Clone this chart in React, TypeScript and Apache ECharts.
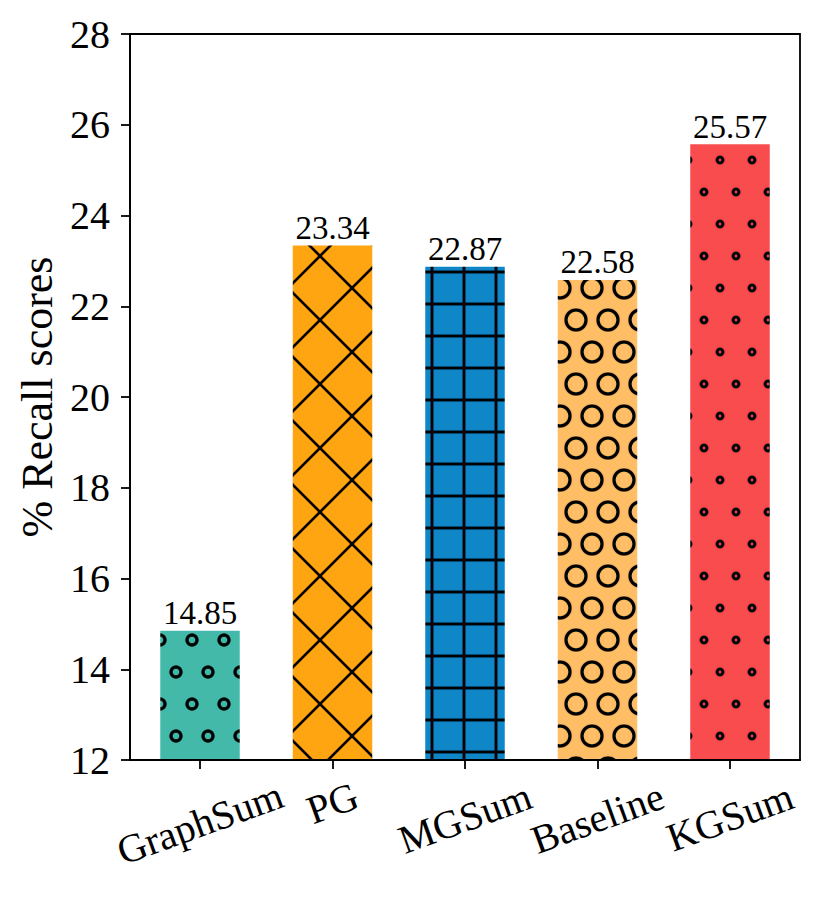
import React, { useEffect, useRef } from "react";
import * as echarts from "echarts";

const categories = ["GraphSum", "PG", "MGSum", "Baseline", "KGSum"];
const recallScores = [14.85, 23.34, 22.87, 22.58, 25.57];
const yTickMin = 12;
const yTickMax = 28;
const yTickStep = 2;
const barColors = ["#43b9aa", "#ffa511", "#0f86c8", "#ffbd66", "#f84c4e"];
const hatchKinds = ["o", "x", "+", "O", "."];
// how far (px) each rotated label sits below the shortest one
const labelDrop = [20, 0, 15, 15, 14];

const FONT = "'Liberation Serif', 'Times New Roman', serif";

function makeTile(kind: string, color: string) {
  const S = 3;
  let w = 32,
    h = 64;
  if (kind === "x") {
    w = 64;
    h = 64;
  }
  if (kind === "+") {
    w = 32;
    h = 32;
  }
  const c = document.createElement("canvas");
  c.width = w * S;
  c.height = h * S;
  const ctx = c.getContext("2d")!;
  ctx.scale(S, S);
  ctx.fillStyle = color;
  ctx.fillRect(0, 0, w, h);
  ctx.strokeStyle = "#000";
  const line = (x1: number, y1: number, x2: number, y2: number) => {
    ctx.beginPath();
    ctx.moveTo(x1, y1);
    ctx.lineTo(x2, y2);
    ctx.stroke();
  };
  const circles = (r: number, lw: number) => {
    ctx.lineWidth = lw;
    const pts = [
      [0, 0],
      [32, 0],
      [0, 64],
      [32, 64],
      [16, 32],
    ];
    for (const [x, y] of pts) {
      ctx.beginPath();
      ctx.arc(x, y, r, 0, Math.PI * 2);
      ctx.stroke();
    }
  };
  if (kind === "o") circles(5, 3.2);
  else if (kind === "O") circles(10, 3.4);
  else if (kind === ".") circles(2.9, 3);
  else if (kind === "x") {
    ctx.lineWidth = 2.6;
    for (const c0 of [-64, 0, 64]) {
      line(-8, -8 + c0, 72, 72 + c0);
      line(-8, 72 + c0, 72, -8 + c0);
    }
  } else if (kind === "+") {
    ctx.lineWidth = 3;
    line(16, -2, 16, 34);
    line(-2, 16, 34, 16);
  }
  return {
    image: c.toDataURL(),
    repeat: "repeat",
    imageWidth: w,
    imageHeight: h,
  };
}

export default function App() {
  const ref = useRef<HTMLDivElement>(null);
  useEffect(() => {
    if (!ref.current) return;
    const chart = echarts.init(ref.current, null, { renderer: "svg" });
    const tiles = categories.map((_, i) => makeTile(hatchKinds[i], barColors[i]));
    const ang = (20 * Math.PI) / 180;
    const rich: Record<string, any> = {};
    categories.forEach((_, i) => {
      const d = labelDrop[i];
      rich["l" + i] = {
        fontSize: 40,
        fontFamily: FONT,
        color: "#000",
        padding: [2 * d * Math.cos(ang), 2 * d * Math.sin(ang), 0, 0],
      };
    });
    const axisLine = { show: true, lineStyle: { color: "#000", width: 1.8 } };
    const option: any = {
      animation: false,
      grid: [
        {
          left: 130,
          right: 29,
          top: 34,
          bottom: 138,
          show: true,
          borderColor: "#000",
          borderWidth: 1.8,
          backgroundColor: "transparent",
        },
        { left: 133.75, right: 32.75, top: 34, bottom: 138 },
      ],
      xAxis: [
        {
          type: "value",
          gridIndex: 0,
          min: 0,
          max: 1,
          z: 10,
          axisLine,
          axisTick: { show: false },
          axisLabel: { show: false },
          splitLine: { show: false },
        },
        {
          type: "category",
          gridIndex: 1,
          data: categories,
          z: 10,
          axisLine: { show: false },
          axisTick: {
            show: true,
            alignWithLabel: true,
            length: 9,
            lineStyle: { color: "#000", width: 1.8 },
          },
          axisLabel: {
            rotate: 20,
            align: "center",
            verticalAlign: "middle",
            margin: 43,
            interval: 0,
            fontSize: 40,
            fontFamily: FONT,
            color: "#000",
            formatter: (v: string) => `{l${categories.indexOf(v)}|${v}}`,
            rich,
          },
          splitLine: { show: false },
        },
      ],
      yAxis: [
        {
          type: "value",
          gridIndex: 0,
          min: yTickMin,
          max: yTickMax,
          interval: yTickStep,
          z: 10,
          axisLine,
          axisTick: { show: true, length: 9, lineStyle: { color: "#000", width: 1.8 } },
          axisLabel: { fontSize: 40, fontFamily: FONT, color: "#000", margin: 20 },
          splitLine: { show: false },
          name: "% Recall scores",
          nameLocation: "middle",
          nameRotate: 90,
          nameGap: 71,
          nameTextStyle: { fontSize: 44, fontFamily: FONT, color: "#000" },
        },
        {
          type: "value",
          gridIndex: 1,
          min: yTickMin,
          max: yTickMax,
          interval: yTickStep,
          show: false,
          splitLine: { show: false },
        },
      ],
      series: [
        {
          type: "bar",
          xAxisIndex: 1,
          yAxisIndex: 1,
          barWidth: 79.5,
          data: recallScores.map((v, i) => ({ value: v, itemStyle: { color: tiles[i] } })),
          label: {
            show: true,
            position: "top",
            distance: 1,
            fontSize: 33,
            fontFamily: FONT,
            color: "#000",
            formatter: (p: any) => Number(p.value).toFixed(2),
          },
        },
      ],
    };
    chart.setOption(option);
    return () => chart.dispose();
  }, []);
  return (
    <div
      ref={ref}
      style={{ position: "absolute", left: 0, top: 0, width: 829, height: 898, background: "#fff" }}
    />
  );
}
